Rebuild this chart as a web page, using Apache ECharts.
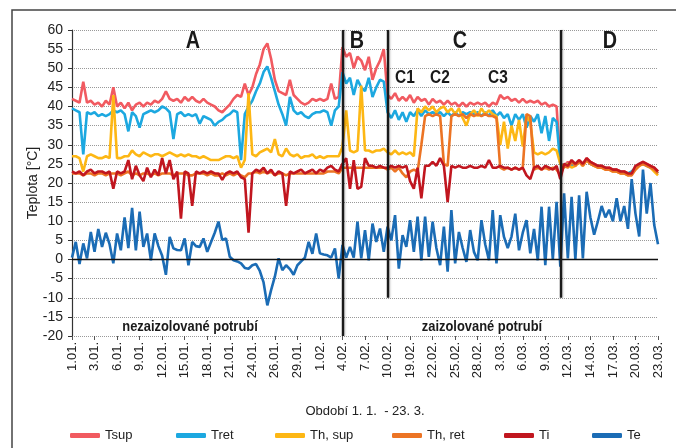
<!DOCTYPE html>
<html>
<head>
<meta charset="utf-8">
<script src="https://cdn.jsdelivr.net/npm/echarts/dist/echarts.min.js"></script>
<style>
  html, body { margin: 0; padding: 0; background: #fff; }
  #chart { width: 676px; height: 448px; }
</style>
</head>
<body>
<div id="chart"></div>
<script>
// osa x: 6 bodu na kazdy popisek (27 popisku, 157 bodu)
var tickLabels = ['1.01.', '3.01.', '6.01.', '9.01.', '12.01.', '15.01.', '18.01.', '21.01.', '24.01.',
  '26.01.', '29.01.', '1.02.', '4.02.', '7.02.', '10.02.', '19.02.', '22.02.', '25.02.', '28.02.',
  '3.03.', '6.03.', '9.03.', '12.03.', '14.03.', '17.03.', '20.03.', '23.03.'];
var perTick = 6;

var tsup = [42, 41.5, 41, 46.5, 41, 41.5, 40.5, 41, 40, 41.5,
  40.5, 45, 40, 41, 39.5, 41, 39, 40.5, 41, 40,
  41, 40.5, 41.5, 41, 42, 44, 42, 41.5, 42, 41,
  42.5, 41.5, 42.5, 41.5, 41, 42, 41, 40.5, 40, 39,
  38.5, 39.5, 40.5, 42, 43, 42.5, 46, 43, 45, 48.5,
  51, 55, 56.5, 52.5, 47, 44, 43.5, 43, 47, 43,
  42, 41, 40.5, 41, 42, 41.5, 42, 41.5, 42, 46,
  42, 42.5, 55.5, 53, 54, 50, 53, 52, 49.5, 53,
  47, 50, 52, 55, 43, 42, 43.5, 41.5, 42.5, 41.5,
  43, 41, 42.5, 41.5, 42, 40.5, 42, 41, 41.5, 40.5,
  41.5, 40.5, 41, 40, 41, 40, 41, 40.5, 41, 40.5,
  41, 40, 41, 40.5, 43, 42, 42.5, 41.5, 42, 41,
  42, 41, 41.5, 41, 41.5, 40.5, 41, 40, 40.5, 40,
  25, 24.5, 25.5, 24.5, 25, 26, 25, 26.5, 25.5, 25,
  24.5, 24.5, 24, 24, 23.5, 23.5, 23, 23, 22.5, 22.5,
  24, 25, 25.5, 25, 24.5, 24, 23];

var tret = [39.5, 39, 38.5, 27.5, 38.5, 38, 38.5, 37.5, 38, 37.5,
  38, 39, 38.5, 39, 38, 33.5, 38.5, 37.5, 34.5, 38,
  38.5, 39, 38.5, 39, 40, 39.5, 38.5, 31.5, 38, 38.5,
  37.5, 38, 37.5, 38, 35.5, 37.5, 37, 36.5, 35, 36,
  36.5, 37.5, 38, 39, 38.5, 26, 38, 40, 41.5, 44,
  46, 49, 50.5, 47.5, 44, 40.5, 38, 35, 42.5, 39,
  38, 38.5, 37.5, 37, 38, 38.5, 38.5, 39, 38.5, 35,
  39, 40, 49, 46, 47.5, 43, 47, 45, 44, 47.5,
  42.5, 45, 47, 46.5, 38.5, 37, 39, 36.5, 38.5, 36,
  38.5, 37.5, 39, 37.5, 39, 38, 38.5, 38, 38.5, 37.5,
  38.5, 37.5, 38.5, 37.5, 38.5, 38, 38.5, 38, 38.5, 37.5,
  38.5, 37.5, 39, 37.5, 38.5, 37, 38, 35, 38, 36.5,
  38, 34.5, 37.5, 36, 38, 33, 37.5, 31, 37, 36,
  25, 24.5, 25, 24.5, 25, 25.5, 25, 26, 25, 24.5,
  24.5, 24, 24, 23.5, 23.5, 23, 23, 22.5, 22.5, 23,
  24, 25, 25, 24.5, 24, 23.5, 22.5];

var thSup = [27, 27, 26.5, 23, 27, 27.5, 27, 26.5, 26.5, 27,
  26.5, 43, 26.5, 26.5, 27, 27, 28.5, 27.5, 27, 28,
  27.5, 27, 27.5, 27.5, 27, 27.5, 28, 27.5, 27, 27.5,
  27, 27.5, 27, 27, 26.5, 27, 26.5, 26, 26, 26,
  26.5, 27, 27, 26.5, 27, 24, 26, 43.5, 27.5, 27,
  28, 28.5, 29, 28, 31.5, 27.5, 27, 29, 27.5, 27,
  27.5, 26.5, 27, 27, 27.5, 26.5, 27, 26.5, 27, 27,
  27, 27, 29.5, 39, 28.5, 28, 28.5, 45.5, 28.5, 28.5,
  28, 28.5, 28.5, 29, 28, 27.5, 28.5, 27.5, 28, 27.5,
  28, 27, 39.5, 38.5, 40, 39, 40, 38.5, 39.5, 40,
  38.5, 39.5, 38, 39.5, 37, 35, 38, 39, 37.5, 39.5,
  38, 39, 38, 37.5, 30, 36, 29, 35, 31, 36.5,
  29.5, 37.5, 36, 28, 27.5, 28, 27.5, 28, 29, 28.5,
  25, 24, 25, 24, 24.5, 25.5, 24.5, 26, 25, 24.5,
  24, 24, 23.5, 23.5, 23, 23, 22.5, 22.5, 22, 22.5,
  23.5, 24.5, 25, 24.5, 24, 23, 22];

var thRet = [22.5, 22.5, 22.5, 22, 22.5, 22.5, 22, 22.5, 22.5, 22,
  22.5, 22.5, 22.5, 22, 22.5, 23, 22, 22.5, 22, 22.5,
  22.5, 22, 22.5, 22, 22.5, 22.5, 22.5, 22, 22.5, 22.5,
  22.5, 22, 22, 22.5, 22.5, 22.5, 22, 22.5, 22, 22,
  22.5, 22, 22.5, 22, 22.5, 22, 21.5, 22.5, 22.5, 23,
  22.5, 23, 22.5, 23, 22, 22.5, 22.5, 22, 22.5, 22.5,
  22.5, 22.5, 22.5, 22.5, 22.5, 22.5, 22.5, 22.5, 23, 23,
  23, 22.5, 24, 24, 24, 24, 24, 24, 24, 24,
  24, 24, 24, 24, 23.5, 24, 23, 24, 22.5, 21.5,
  23, 23.5, 23, 30, 37.5, 38, 37.5, 38, 37.5, 25,
  24.5, 37.5, 38, 37.5, 38, 37, 38, 37.5, 38, 37.5,
  38, 37.5, 37.5, 37, 24, 23.5, 24, 23.5, 24, 23.5,
  24, 38, 37.5, 23.5, 24, 23.5, 24, 23.5, 24, 23.5,
  22, 24.5, 24, 25.5, 24.5, 25.5, 24.5, 26, 25, 24.5,
  24, 24, 23.5, 23.5, 23, 23, 22.5, 22.5, 22, 22,
  23.5, 24.5, 25, 24.5, 24, 23.5, 22.5];

var ti = [23, 22.5, 23, 22, 23, 23.5, 22.5, 23, 23, 22.5,
  23, 18.5, 23, 22.5, 23, 26, 21, 24.5, 22, 20.5,
  24, 21.5, 23.5, 22, 26.5, 22.5, 26, 21, 23, 10.7,
  23, 22.5, 14, 23, 22.5, 23, 22.5, 23, 22.5, 22.5,
  20.8, 22.5, 23, 22.5, 23, 21.5, 21, 7, 22.5, 23.5,
  23, 24, 22.5, 23.5, 22, 23, 22.5, 14, 23, 22.5,
  23, 23.5, 22.5, 23, 23.5, 22.5, 23.5, 23, 24, 24.5,
  23.5, 23, 25, 26.5, 18.5, 26, 18.5, 19, 26.5, 24.5,
  24.5, 24, 24.5, 24, 24, 24.5, 24, 24.5, 24, 24.5,
  20.5, 18.5, 24, 16, 24.5, 24.5, 25.5, 24.5, 26.5, 24.5,
  15, 24.5, 24, 24.5, 24, 24, 24.5, 24, 24, 24.5,
  24, 26, 24, 24, 24.5, 24, 24, 23.5, 24, 23.5,
  24, 22, 21, 24, 24.5, 23.5, 24.5, 24, 23.5, 24.5,
  21, 25, 24.5, 26, 25, 26, 25, 26.5, 25.5, 25,
  24.5, 24.5, 24, 24, 23.5, 23.5, 23, 23, 22.5, 22.5,
  24.5, 25, 25.5, 25, 24.5, 24, 23];

var te = [0.5, 4.6, -1.2, 4.2, 0.3, 7.2, 2, 8, 3.3, 7,
  4, -1, 6.8, 2.4, 11, 3, 13.5, 2.4, 12.5, 3.3,
  6.8, -0.2, 6.8, 3.5, 1, -4, 5.9, 2.9, 2.5, 2.4,
  5.5, -1.5, 4.6, 3.5, 3.3, 5.5, 2, 4.5, 7, 9.9,
  5.1, 5.5, 0.7, -0.2, -0.5, -1, -2.2, -2.4, -1.5, -1.2,
  -3, -6, -12, -8, -4.5, 0.3, -2.8, -1.5, -2.5, -4,
  -1.5, -0.5, 0.5, 4.6, 1.5, 6.8, 1.6, 1.3, 1.1, 0.5,
  2.9, -5, 3.8, 0.5, 3.3, 0.5, 9.9, 0.3, 7.7, -0.2,
  9.4, 4.6, 8.1, 2, 8.6, 5, 11.6, -2.4, 6.4, 3.3,
  10.3, 2, 11.2, -0.2, 11.2, 0.7, 9.9, 3, -1.5, 8.6,
  -3.2, 12.9, -1, 7.2, 3, -0.6, 7.7, 2, -0.2, 10.3,
  4, -0.2, 12.9, -1, 11.6, 5.9, 3, 6, 12, 2.4,
  7, 10.3, 1.6, 8, -0.2, 13.8, -1.5, 13.8, 0, 15.1,
  -1.9, 17.3, 0.3, 16.4, 0, 16.8, 0.3, 17.7, 11, 6.5,
  10, 14, 11, 13, 10, 16, 10, 14, 8, 21,
  12, 6, 23.5, 12, 20, 9, 4];

var seriesNames = ['Tsup', 'Tret', 'Th, sup', 'Th, ret', 'Ti', 'Te'];
var seriesColors = ['#F15A60', '#1CA8E0', '#FDB714', '#EC7424', '#C1161F', '#1B6CB5'];
var legendLeft = [65, 171, 270, 387, 499, 587];

// hranice obdobi (index bodu) a jejich spodni konec
var borders = [[72, -20], [84, -10], [130, -10]];

var cats = [];
for (var i = 0; i < tsup.length; i++) cats.push(String(i));

var FONT = '"Liberation Sans Narrow", "Arial Narrow", "Liberation Sans", Arial, sans-serif';
var BOLD = '"Liberation Sans", Arial, sans-serif';

var chart = echarts.init(document.getElementById('chart'), null, { renderer: 'canvas' });

var allData = [tsup, tret, thSup, thRet, ti, te];
var series = allData.map(function (d, k) {
  return {
    name: seriesNames[k], type: 'line', data: d, symbol: 'none',
    lineStyle: { width: 2.6, color: seriesColors[k] },
    itemStyle: { color: seriesColors[k] },
    emphasis: { disabled: true }
  };
});

// nulova cara
series[5].markLine = {
  silent: true, symbol: 'none', label: { show: false },
  lineStyle: { color: '#111', width: 1.4, type: 'solid' },
  data: [[{ coord: [0, 0] }, { coord: [cats.length - 1, 0] }]]
};
// svisle hranice period
series.push({
  name: 'hranice', type: 'line', data: [], symbol: 'none',
  markLine: {
    silent: true, symbol: 'none', label: { show: false },
    lineStyle: { color: '#1a1a1a', width: 2.4, type: 'solid',
      shadowColor: 'rgba(0,0,0,0.25)', shadowBlur: 2, shadowOffsetX: 1 },
    data: borders.map(function (b) {
      return [{ coord: [b[0], 60] }, { coord: [b[0], b[1]] }];
    })
  }
});

var legends = seriesNames.map(function (n, k) {
  return {
    data: [n], left: legendLeft[k], top: 424, icon: 'roundRect',
    itemWidth: 30, itemHeight: 5, itemGap: 0,
    textStyle: { fontFamily: FONT, fontSize: 13, color: '#222' }
  };
});

function label(txt, x, y, size, font) {
  return { type: 'text', x: x, y: y, z: 100, scaleX: 0.86,
    style: { text: txt, font: 'bold ' + size + 'px ' + font, fill: '#1a1a1a',
      textAlign: 'center', textVerticalAlign: 'middle' } };
}

var option = {
  animation: false,
  backgroundColor: '#fff',
  grid: { left: 72, right: 18, top: 30, bottom: 112, containLabel: false },
  legend: legends,
  xAxis: {
    type: 'category', data: cats, boundaryGap: false,
    axisLine: { show: false, onZero: false },
    axisTick: { show: true, interval: perTick - 1, length: 4, lineStyle: { color: '#555' } },
    axisLabel: {
      interval: perTick - 1, rotate: 90, margin: 6,
      fontFamily: FONT, fontSize: 13, color: '#222',
      formatter: function (v, idx) { return tickLabels[Math.round(idx / perTick)]; }
    },
    splitLine: { show: false },
    name: 'Období 1. 1.  - 23. 3.', nameLocation: 'middle', nameGap: 69,
    nameTextStyle: { fontFamily: FONT, fontSize: 13, color: '#222' }
  },
  yAxis: {
    type: 'value', min: -20, max: 60, interval: 5,
    axisLine: { show: true, lineStyle: { color: '#333', width: 1.2 } },
    axisTick: { show: true, length: 4, lineStyle: { color: '#333' } },
    axisLabel: { fontFamily: FONT, fontSize: 14, color: '#222', margin: 9 },
    splitLine: { lineStyle: { color: '#999', type: 'dotted', width: 1 } }
  },
  graphic: [
    { type: 'rect', shape: { x: 12, y: 10, width: 700, height: 460 },
      style: { fill: null, stroke: '#444', lineWidth: 1.5 }, silent: true, z: 0 },
    { type: 'text', x: 33, y: 183, rotation: Math.PI / 2, z: 100,
      style: { text: 'Teplota [°C]', font: '14px ' + FONT, fill: '#222',
        textAlign: 'center', textVerticalAlign: 'middle' } },
    label('A', 193, 42, 23, BOLD),
    label('B', 357, 42, 23, BOLD),
    label('C', 460, 42, 23, BOLD),
    label('D', 610, 42, 23, BOLD),
    label('C1', 405, 78, 18, BOLD),
    label('C2', 440, 78, 18, BOLD),
    label('C3', 498, 78, 18, BOLD),
    label('nezaizolované potrubí', 190, 327, 15, BOLD),
    label('zaizolované potrubí', 482, 327, 15, BOLD)
  ],
  series: series
};

chart.setOption(option);
</script>
</body>
</html>
